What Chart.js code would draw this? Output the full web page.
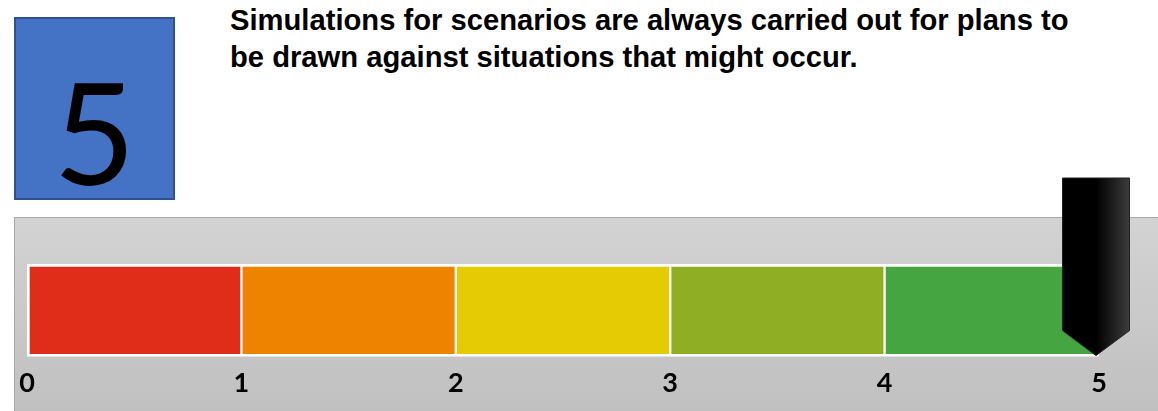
<!DOCTYPE html>
<html>
<head>
<meta charset="utf-8">
<script src="https://cdn.jsdelivr.net/npm/chart.js@4.4.0/dist/chart.umd.min.js"></script>
<style>
  body { margin: 0; background: #fff; width: 1158px; height: 411px; overflow: hidden; position: relative; }
  #box { position: absolute; left: 14px; top: 17px; width: 157px; height: 179px; background: #4472C4; border: 2px solid #2F528F;
         font-family: Lato, sans-serif; font-size: 142px; line-height: 179px; text-align: center; color: #000; }
  #box span { position: relative; top: 22px; }
  #title { position: absolute; left: 230px; top: 2px; font-family: "Liberation Sans", Arial, sans-serif; font-weight: bold;
           font-size: 29.2px; line-height: 36.5px; color: #000; }
  #wrap { position: absolute; left: 0; top: 0; width: 1158px; height: 411px; }
</style>
</head>
<body>
<div id="box"><span>5</span></div>
<div id="title">Simulations for scenarios are always carried out for plans to<br>be drawn against situations that might occur.</div>
<div id="wrap"><canvas id="myChart"></canvas></div>
<script>
// ........ les données ........
const bandes = ['0-1', '1-2', '2-3', '3-4', '4-5'];
const largeurs = [1, 1, 1, 1, 1];
const couleurs = ['#E02D1A', '#EE8300', '#E4CB04', '#8FAE24', '#44A541'];
const graduations = [0, 1, 2, 3, 4, 5];
const score = 5;

// ........ le panneau gris ........
const panneau = {
    id: 'panneau',
    beforeDraw(chart) {
        const c = chart.ctx;
        const g = c.createLinearGradient(0, 217, 0, 411);
        g.addColorStop(0, '#d3d3d3');
        g.addColorStop(1, '#c0c0c0');
        c.save();
        c.fillStyle = g;
        c.fillRect(14, 217, 1144, 194);
        c.strokeStyle = '#a9a9a9';
        c.lineWidth = 1;
        c.beginPath();
        c.moveTo(14.5, 411); c.lineTo(14.5, 217.5); c.lineTo(1158, 217.5);
        c.stroke();
        c.restore();
    }
};

// ........ le curseur noir ........
const curseur = {
    id: 'curseur',
    afterDatasetsDraw(chart) {
        const c = chart.ctx;
        const x = chart.scales.x.getPixelForValue(score) - 3;
        const bas = chart.chartArea.bottom - 1;
        const w = 67, haut = 178, coude = bas - 25;
        const g = c.createLinearGradient(x - w / 2, 0, x + w / 2, 0);
        g.addColorStop(0, '#000');
        g.addColorStop(0.5, '#000');
        g.addColorStop(1, '#3c3c3c');
        c.save();
        c.beginPath();
        c.moveTo(x - w / 2, haut);
        c.lineTo(x + w / 2, haut);
        c.lineTo(x + w / 2, coude);
        c.lineTo(x, bas);
        c.lineTo(x - w / 2, coude);
        c.closePath();
        c.fillStyle = g;
        c.fill();
        c.strokeStyle = '#222';
        c.lineWidth = 1;
        c.stroke();
        c.restore();
    }
};

const ctx = document.getElementById('myChart').getContext('2d');
const chart = new Chart(ctx, {
    type: 'bar',
    data: {
        labels: ['score'],
        datasets: bandes.map((b, i) => ({
            label: b,
            data: [largeurs[i]],
            backgroundColor: couleurs[i],
            borderColor: '#ffffff',
            borderWidth: { top: 3, bottom: 3, left: i === 0 ? 3 : 1.5, right: i === bandes.length - 1 ? 3 : 1.5 },
            borderSkipped: false,
            barPercentage: 1,
            categoryPercentage: 1
        }))
    },
    options: {
        indexAxis: 'y',
        responsive: true,
        maintainAspectRatio: false,
        animation: false,
        layout: { padding: { left: 27, right: 59, top: 264, bottom: 10 } },
        plugins: { legend: { display: false }, tooltip: { enabled: false } },
        scales: {
            x: {
                stacked: true,
                min: 0,
                max: 5,
                afterBuildTicks: (s) => { s.ticks = graduations.map(v => ({ value: v })); },
                grid: { display: false },
                border: { display: false },
                ticks: { color: '#000', padding: 2, maxRotation: 0, font: { family: 'Lato', weight: 'bold', size: 27 } }
            },
            y: { stacked: true, display: false }
        }
    },
    plugins: [panneau, curseur]
});
</script>
</body>
</html>
